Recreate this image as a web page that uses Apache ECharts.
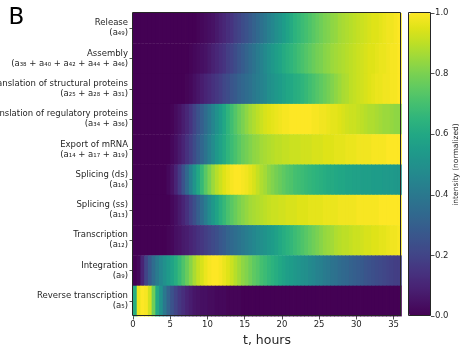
<!DOCTYPE html>
<html>
<head>
<meta charset="utf-8">
<script src="https://cdn.jsdelivr.net/npm/echarts@6/dist/echarts.min.js"></script>
<style>
  html, body { margin: 0; padding: 0; background: #fff; }
  #chart { width: 462px; height: 348px; }
</style>
</head>
<body>
<div id="chart"></div>
<script>
// Reaction steps, listed from the top row down
const rowNames = [
  'Release',
  'Assembly',
  'Translation of structural proteins',
  'Translation of regulatory proteins',
  'Export of mRNA',
  'Splicing (ds)',
  'Splicing (ss)',
  'Transcription',
  'Integration',
  'Reverse transcription'
];
const rowTerms = [
  '(a₄₉)',
  '(a₃₈ + a₄₀ + a₄₂ + a₄₄ + a₄₆)',
  '(a₂₅ + a₂₈ + a₃₁)',
  '(a₃₄ + a₃₆)',
  '(a₁₄ + a₁₇ + a₁₉)',
  '(a₁₆)',
  '(a₁₃)',
  '(a₁₂)',
  '(a₉)',
  '(a₅)'
];

// Time grid: half-hour bins from 0 to 36 h
const hourStep = 0.5;
const hoursMax = 36;
const xTicks = [0, 5, 10, 15, 20, 25, 30, 35];
const barTicks = [0, 0.2, 0.4, 0.6, 0.8, 1.0];

// Normalized intensity per half-hour bin (72 bins per step)
const release = [
  0, 0, 0, 0, 0, 0, 0, 0, 0, 0,
  0, 0, 0, 0, 0, 0, 0, 0.01, 0.02, 0.03,
  0.04, 0.05, 0.07, 0.09, 0.11, 0.13, 0.15, 0.18, 0.2, 0.23,
  0.25, 0.28, 0.31, 0.34, 0.37, 0.4, 0.43, 0.46, 0.49, 0.52,
  0.55, 0.58, 0.61, 0.64, 0.66, 0.68, 0.7, 0.72, 0.74, 0.76,
  0.78, 0.8, 0.81, 0.83, 0.84, 0.86, 0.87, 0.88, 0.89, 0.9,
  0.91, 0.92, 0.93, 0.94, 0.95, 0.95, 0.96, 0.97, 0.98, 0.98,
  0.99, 1.0
];
const assembly = [
  0, 0, 0, 0, 0, 0, 0, 0, 0, 0,
  0, 0, 0, 0, 0, 0.01, 0.02, 0.03, 0.04, 0.05,
  0.07, 0.09, 0.11, 0.13, 0.15, 0.18, 0.2, 0.23, 0.26, 0.29,
  0.32, 0.35, 0.38, 0.41, 0.44, 0.47, 0.5, 0.53, 0.56, 0.58,
  0.61, 0.63, 0.65, 0.67, 0.69, 0.71, 0.73, 0.75, 0.77, 0.79,
  0.8, 0.82, 0.83, 0.85, 0.86, 0.87, 0.88, 0.89, 0.9, 0.91,
  0.92, 0.93, 0.94, 0.95, 0.95, 0.96, 0.97, 0.97, 0.98, 0.99,
  0.99, 1.0
];
const structuralProteins = [
  0, 0, 0, 0, 0, 0, 0, 0, 0, 0,
  0, 0, 0, 0, 0.01, 0.02, 0.04, 0.06, 0.08, 0.1,
  0.12, 0.14, 0.16, 0.18, 0.21, 0.23, 0.26, 0.28, 0.31, 0.33,
  0.35, 0.37, 0.4, 0.42, 0.44, 0.46, 0.49, 0.51, 0.53, 0.55,
  0.57, 0.59, 0.6, 0.62, 0.63, 0.65, 0.67, 0.69, 0.71, 0.73,
  0.75, 0.77, 0.79, 0.81, 0.83, 0.85, 0.87, 0.88, 0.9, 0.91,
  0.92, 0.93, 0.94, 0.95, 0.96, 0.97, 0.97, 0.98, 0.98, 0.99,
  0.99, 1.0
];
const regulatoryProteins = [
  0, 0, 0, 0, 0, 0, 0, 0, 0, 0,
  0.01, 0.03, 0.05, 0.08, 0.11, 0.15, 0.2, 0.25, 0.3, 0.35,
  0.4, 0.45, 0.5, 0.55, 0.6, 0.65, 0.69, 0.73, 0.77, 0.8,
  0.83, 0.86, 0.88, 0.9, 0.92, 0.94, 0.95, 0.96, 0.97, 0.98,
  0.99, 0.99, 1.0, 1.0, 1.0, 1.0, 1.0, 1.0, 0.99, 0.99,
  0.98, 0.98, 0.97, 0.96, 0.96, 0.95, 0.94, 0.93, 0.92, 0.92,
  0.91, 0.9, 0.89, 0.88, 0.88, 0.87, 0.86, 0.85, 0.85, 0.84,
  0.83, 0.83
];
const exportMrna = [
  0, 0, 0, 0, 0, 0, 0, 0, 0, 0,
  0.02, 0.04, 0.07, 0.1, 0.14, 0.18, 0.23, 0.28, 0.33, 0.38,
  0.43, 0.48, 0.53, 0.57, 0.61, 0.65, 0.68, 0.71, 0.74, 0.77,
  0.79, 0.81, 0.83, 0.84, 0.86, 0.87, 0.88, 0.89, 0.9, 0.9,
  0.91, 0.91, 0.92, 0.92, 0.92, 0.93, 0.93, 0.93, 0.94, 0.94,
  0.94, 0.95, 0.95, 0.95, 0.96, 0.96, 0.96, 0.97, 0.97, 0.97,
  0.98, 0.98, 0.98, 0.98, 0.99, 0.99, 0.99, 0.99, 1.0, 1.0,
  1.0, 1.0
];
const splicingDs = [
  0, 0, 0, 0, 0, 0, 0, 0, 0, 0.02,
  0.05, 0.1, 0.17, 0.25, 0.34, 0.43, 0.52, 0.6, 0.67, 0.74,
  0.8, 0.85, 0.89, 0.92, 0.95, 0.97, 0.99, 1.0, 1.0, 0.99,
  0.98, 0.96, 0.94, 0.91, 0.88, 0.86, 0.83, 0.81, 0.79, 0.77,
  0.75, 0.73, 0.72, 0.7, 0.69, 0.68, 0.67, 0.66, 0.65, 0.64,
  0.63, 0.62, 0.61, 0.61, 0.6, 0.59, 0.59, 0.58, 0.58, 0.57,
  0.57, 0.56, 0.56, 0.56, 0.55, 0.55, 0.55, 0.54, 0.54, 0.54,
  0.53, 0.53
];
const splicingSs = [
  0, 0, 0, 0, 0, 0, 0, 0, 0, 0,
  0.02, 0.04, 0.07, 0.1, 0.14, 0.19, 0.24, 0.3, 0.36, 0.42,
  0.48, 0.53, 0.58, 0.63, 0.67, 0.71, 0.74, 0.77, 0.8, 0.82,
  0.84, 0.86, 0.87, 0.88, 0.89, 0.9, 0.91, 0.92, 0.92, 0.93,
  0.93, 0.94, 0.94, 0.94, 0.95, 0.95, 0.95, 0.96, 0.96, 0.96,
  0.96, 0.97, 0.97, 0.97, 0.97, 0.98, 0.98, 0.98, 0.98, 0.98,
  0.99, 0.99, 0.99, 0.99, 0.99, 0.99, 1.0, 1.0, 1.0, 1.0,
  1.0, 1.0
];
const transcription = [
  0, 0, 0, 0, 0, 0, 0, 0, 0, 0.01,
  0.02, 0.04, 0.05, 0.07, 0.08, 0.1, 0.12, 0.14, 0.16, 0.18,
  0.2, 0.22, 0.24, 0.27, 0.29, 0.32, 0.34, 0.36, 0.38, 0.4,
  0.42, 0.44, 0.46, 0.48, 0.49, 0.51, 0.53, 0.55, 0.57, 0.6,
  0.62, 0.64, 0.66, 0.68, 0.7, 0.72, 0.74, 0.76, 0.78, 0.8,
  0.82, 0.84, 0.85, 0.86, 0.88, 0.89, 0.9, 0.9, 0.91, 0.92,
  0.92, 0.93, 0.94, 0.94, 0.95, 0.95, 0.96, 0.96, 0.97, 0.98,
  0.98, 0.99
];
const integration = [
  0, 0.02, 0.1, 0.2, 0.28, 0.35, 0.41, 0.46, 0.5, 0.54,
  0.58, 0.62, 0.67, 0.72, 0.77, 0.82, 0.87, 0.91, 0.94, 0.97,
  0.99, 1.0, 1.0, 0.99, 0.97, 0.95, 0.92, 0.89, 0.86, 0.83,
  0.81, 0.78, 0.75, 0.73, 0.7, 0.68, 0.66, 0.64, 0.62, 0.6,
  0.58, 0.56, 0.55, 0.53, 0.52, 0.5, 0.49, 0.47, 0.46, 0.44,
  0.43, 0.41, 0.4, 0.38, 0.37, 0.35, 0.34, 0.33, 0.31, 0.3,
  0.29, 0.28, 0.26, 0.25, 0.24, 0.23, 0.22, 0.21, 0.2, 0.19,
  0.18, 0.18
];
const reverseTranscription = [
  0.62, 0.97, 1.0, 0.99, 0.93, 0.78, 0.6, 0.5, 0.4, 0.32,
  0.25, 0.2, 0.16, 0.13, 0.1, 0.08, 0.06, 0.05, 0.04, 0.04,
  0.03, 0.03, 0.02, 0.02, 0.02, 0.01, 0.01, 0.01, 0.01, 0,
  0, 0, 0, 0, 0, 0, 0, 0, 0, 0,
  0, 0, 0, 0, 0, 0, 0, 0, 0, 0,
  0, 0, 0, 0, 0, 0, 0, 0, 0, 0,
  0, 0, 0, 0, 0, 0, 0, 0, 0, 0,
  0, 0
];

const rows = [
  release, assembly, structuralProteins, regulatoryProteins, exportMrna,
  splicingDs, splicingSs, transcription, integration, reverseTranscription
];

// viridis colour scale, sampled every 0.05
const viridis = [
  '#440154', '#471365', '#482475', '#463480', '#414487', '#3b528b', '#355f8d',
  '#2f6c8e', '#2a788e', '#25858e', '#21918c', '#1e9c89', '#22a884', '#2fb47c',
  '#44bf70', '#5ec962', '#7ad151', '#9bd93c', '#bddf26', '#dfe318', '#fde725'
];

const FONT = 'DejaVu Sans';
const INK = '#262626';

const timeBins = [];
for (let i = 0; i * hourStep < hoursMax; i++) timeBins.push(i * hourStep);

const rowLabels = rowNames.map((n, i) => n + '\n' + rowTerms[i]);

const cells = [];
rows.forEach((vals, r) => vals.forEach((v, c) => cells.push([c, r, v])));

// One rectangle per (time bin, step); slightly widened so neighbouring bins leave no seams
function renderCell(params, api) {
  const centre = api.coord([api.value(0), api.value(1)]);
  const size = api.size([1, 1]);
  return {
    type: 'rect',
    shape: {
      x: centre[0] - size[0] / 2,
      y: centre[1] - size[1] / 2,
      width: size[0] + 0.8,
      height: size[1] + 0.4
    },
    style: { fill: api.visual('color') }
  };
}

const chart = echarts.init(document.getElementById('chart'), null, { renderer: 'canvas' });

chart.setOption({
  animation: false,
  textStyle: { fontFamily: FONT },
  grid: [
    { left: 133, top: 13, width: 268, height: 303, containLabel: false, outerBoundsMode: 'none' },
    { left: 409, top: 13, width: 22, height: 303, containLabel: false, outerBoundsMode: 'none' }
  ],
  xAxis: [
    { type: 'category', gridIndex: 0, data: timeBins, show: false },
    {
      type: 'value', gridIndex: 0, min: 0, max: hoursMax, interval: 5,
      position: 'bottom',
      axisLine: { show: false },
      splitLine: { show: false },
      axisTick: { show: true, length: 3.5, lineStyle: { color: INK, width: 0.8 }, customValues: xTicks },
      axisLabel: { fontSize: 8.5, color: INK, margin: 4, fontFamily: FONT, customValues: xTicks },
      name: 't, hours', nameLocation: 'middle', nameGap: 16,
      nameTextStyle: { fontSize: 12.5, color: INK, fontFamily: FONT }
    },
    { type: 'category', gridIndex: 1, data: ['bar'], show: false }
  ],
  yAxis: [
    {
      type: 'category', gridIndex: 0, data: rowLabels, inverse: true,
      axisLine: { show: false },
      splitLine: { show: false },
      axisTick: { show: true, alignWithLabel: true, length: 3.5, lineStyle: { color: INK, width: 0.8 } },
      axisLabel: { fontSize: 8.5, lineHeight: 10, color: INK, margin: 5, align: 'right', fontFamily: FONT, interval: 0 }
    },
    {
      type: 'value', gridIndex: 1, position: 'right', min: 0, max: 1, interval: 0.2,
      axisLine: { show: false },
      splitLine: { show: false },
      axisTick: { show: true, length: 3.5, lineStyle: { color: INK, width: 0.8 }, customValues: barTicks },
      axisLabel: { fontSize: 8.5, color: INK, margin: 4, fontFamily: FONT, customValues: barTicks,
                   formatter: v => v.toFixed(1) },
      name: 'intensity (normalized)', nameLocation: 'middle', nameRotate: 90, nameGap: 21,
      nameTextStyle: { fontSize: 7.5, color: INK, fontFamily: FONT }
    }
  ],
  visualMap: {
    type: 'continuous', min: 0, max: 1, seriesIndex: 0, dimension: 2,
    inRange: { color: viridis },
    calculable: false, orient: 'vertical',
    left: 409, top: 13, itemWidth: 22, itemHeight: 303,
    text: null, padding: 0, hoverLink: false
  },
  series: [
    {
      type: 'custom', coordinateSystem: 'cartesian2d', xAxisIndex: 0, yAxisIndex: 0,
      data: cells, encode: { x: 0, y: 1 },
      renderItem: renderCell,
      silent: true
    }
  ],
  graphic: [
    {
      type: 'rect', z: 100, silent: true,
      shape: { x: 132.5, y: 12.5, width: 268, height: 303 },
      style: { fill: null, stroke: INK, lineWidth: 1 }
    },
    {
      type: 'rect', z: 100, silent: true,
      shape: { x: 408.5, y: 12.5, width: 22, height: 303 },
      style: { fill: null, stroke: INK, lineWidth: 1 }
    },
    {
      type: 'text', z: 100, silent: true,
      style: { text: 'B', x: 8.5, y: 18.5, font: '23px "DejaVu Sans"', fill: '#000', verticalAlign: 'middle' }
    }
  ]
});
</script>
</body>
</html>
